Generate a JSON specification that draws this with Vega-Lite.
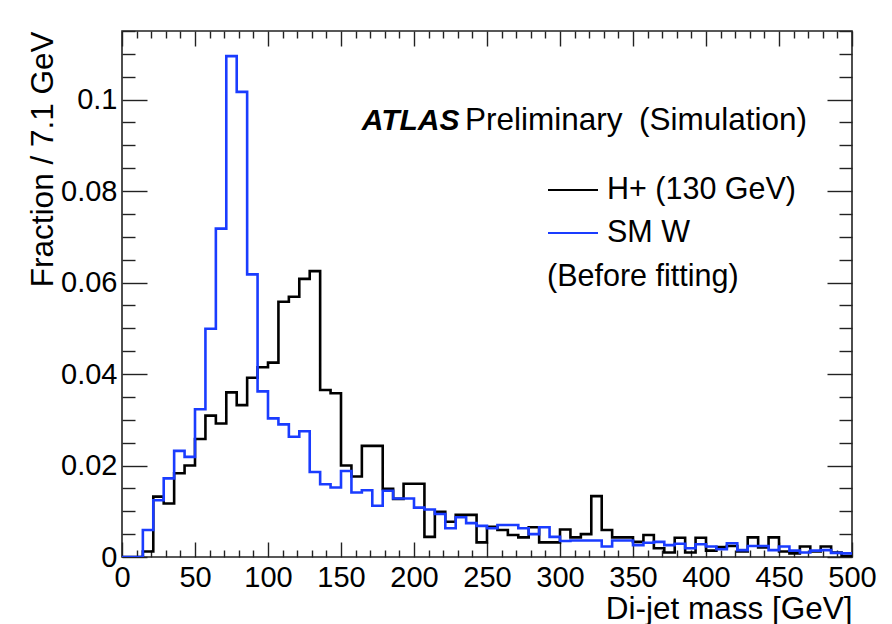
{
  "$schema": "https://vega.github.io/schema/vega-lite/v6.json",
  "width": 730,
  "height": 526,
  "autosize": {"type": "none"},
  "padding": {"left": 122, "top": 31, "right": 40, "bottom": 67},
  "background": "white",
  "config": {
    "font": "Liberation Sans",
    "view": {"stroke": "#222222", "strokeWidth": 1.6},
    "axis": {
      "domain": false,
      "grid": false,
      "tickColor": "#222222",
      "tickWidth": 1.4,
      "labelColor": "black",
      "labelFont": "Liberation Sans",
      "labelFontSize": 29,
      "titleColor": "black",
      "titleFont": "Liberation Sans",
      "titleFontSize": 31.5,
      "titleFontWeight": "normal"
    }
  },
  "datasets": {
    "dijet": [
      {"mass": 0, "hplus": 0, "smw": 0},
      {"mass": 7.1429, "hplus": 0, "smw": 0},
      {"mass": 14.2857, "hplus": 0.0012, "smw": 0.0059},
      {"mass": 21.4286, "hplus": 0.0132, "smw": 0.0124},
      {"mass": 28.5714, "hplus": 0.0117, "smw": 0.0172},
      {"mass": 35.7143, "hplus": 0.0183, "smw": 0.0232},
      {"mass": 42.8571, "hplus": 0.0200, "smw": 0.0219},
      {"mass": 50, "hplus": 0.0258, "smw": 0.0323},
      {"mass": 57.1429, "hplus": 0.0309, "smw": 0.0499},
      {"mass": 64.2857, "hplus": 0.0292, "smw": 0.0718},
      {"mass": 71.4286, "hplus": 0.0360, "smw": 0.1095},
      {"mass": 78.5714, "hplus": 0.0332, "smw": 0.1017},
      {"mass": 85.7143, "hplus": 0.0392, "smw": 0.0618},
      {"mass": 92.8571, "hplus": 0.0415, "smw": 0.0362},
      {"mass": 100, "hplus": 0.0425, "smw": 0.0303},
      {"mass": 107.1429, "hplus": 0.0558, "smw": 0.0290},
      {"mass": 114.2857, "hplus": 0.0569, "smw": 0.0263},
      {"mass": 121.4286, "hplus": 0.0608, "smw": 0.0275},
      {"mass": 128.5714, "hplus": 0.0625, "smw": 0.0186},
      {"mass": 135.7143, "hplus": 0.0365, "smw": 0.0159},
      {"mass": 142.8571, "hplus": 0.0358, "smw": 0.0152},
      {"mass": 150, "hplus": 0.0200, "smw": 0.0188},
      {"mass": 157.1429, "hplus": 0.0176, "smw": 0.0141},
      {"mass": 164.2857, "hplus": 0.0243, "smw": 0.0146},
      {"mass": 171.4286, "hplus": 0.0243, "smw": 0.0112},
      {"mass": 178.5714, "hplus": 0.0149, "smw": 0.0145},
      {"mass": 185.7143, "hplus": 0.0127, "smw": 0.0128},
      {"mass": 192.8571, "hplus": 0.0160, "smw": 0.0128},
      {"mass": 200, "hplus": 0.0160, "smw": 0.0108},
      {"mass": 207.1429, "hplus": 0.0044, "smw": 0.0104},
      {"mass": 214.2857, "hplus": 0.0099, "smw": 0.0094},
      {"mass": 221.4286, "hplus": 0.0077, "smw": 0.0063},
      {"mass": 228.5714, "hplus": 0.0092, "smw": 0.0087},
      {"mass": 235.7143, "hplus": 0.0092, "smw": 0.0074},
      {"mass": 242.8571, "hplus": 0.0032, "smw": 0.0068},
      {"mass": 250, "hplus": 0.0066, "smw": 0.0063},
      {"mass": 257.1429, "hplus": 0.0059, "smw": 0.0070},
      {"mass": 264.2857, "hplus": 0.0048, "smw": 0.0070},
      {"mass": 271.4286, "hplus": 0.0043, "smw": 0.0063},
      {"mass": 278.5714, "hplus": 0.0065, "smw": 0.0050},
      {"mass": 285.7143, "hplus": 0.0032, "smw": 0.0065},
      {"mass": 292.8571, "hplus": 0.0032, "smw": 0.0044},
      {"mass": 300, "hplus": 0.0060, "smw": 0.0035},
      {"mass": 307.1429, "hplus": 0.0043, "smw": 0.0036},
      {"mass": 314.2857, "hplus": 0.0050, "smw": 0.0036},
      {"mass": 321.4286, "hplus": 0.0133, "smw": 0.0036},
      {"mass": 328.5714, "hplus": 0.0059, "smw": 0.0023},
      {"mass": 335.7143, "hplus": 0.0043, "smw": 0.0036},
      {"mass": 342.8571, "hplus": 0.0043, "smw": 0.0036},
      {"mass": 350, "hplus": 0.0033, "smw": 0.0026},
      {"mass": 357.1429, "hplus": 0.0048, "smw": 0.0031},
      {"mass": 364.2857, "hplus": 0.0019, "smw": 0.0033},
      {"mass": 371.4286, "hplus": 0.0010, "smw": 0.0026},
      {"mass": 378.5714, "hplus": 0.0042, "smw": 0.0029},
      {"mass": 385.7143, "hplus": 0.0010, "smw": 0.0019},
      {"mass": 392.8571, "hplus": 0.0042, "smw": 0.0028},
      {"mass": 400, "hplus": 0.0014, "smw": 0.0023},
      {"mass": 407.1429, "hplus": 0.0022, "smw": 0.0017},
      {"mass": 414.2857, "hplus": 0.0024, "smw": 0.0030},
      {"mass": 421.4286, "hplus": 0.0012, "smw": 0.0015},
      {"mass": 428.5714, "hplus": 0.0043, "smw": 0.0024},
      {"mass": 435.7143, "hplus": 0.0021, "smw": 0.0024},
      {"mass": 442.8571, "hplus": 0.0043, "smw": 0.0015},
      {"mass": 450, "hplus": 0.0012, "smw": 0.0023},
      {"mass": 457.1429, "hplus": 0.0008, "smw": 0.0014},
      {"mass": 464.2857, "hplus": 0.0023, "smw": 0.0010},
      {"mass": 471.4286, "hplus": 0.0012, "smw": 0.0014},
      {"mass": 478.5714, "hplus": 0.0023, "smw": 0.0015},
      {"mass": 485.7143, "hplus": 0.0010, "smw": 0.0009},
      {"mass": 492.8571, "hplus": 0.0002, "smw": 0.0008},
      {"mass": 500, "hplus": 0.0002, "smw": 0.0008}
    ]
  },
  "layer": [
    {
      "data": {"name": "dijet"},
      "transform": [{"fold": ["hplus", "smw"], "as": ["sample", "fraction"]}],
      "mark": {"type": "line", "interpolate": "step-after", "strokeWidth": 2.6, "clip": true},
      "encoding": {
        "x": {
          "field": "mass",
          "type": "quantitative",
          "scale": {"domain": [0, 500], "nice": false, "zero": false},
          "axis": {
            "orient": "bottom",
            "values": [0, 10, 20, 30, 40, 50, 60, 70, 80, 90, 100, 110, 120, 130, 140, 150, 160, 170, 180, 190, 200, 210, 220, 230, 240, 250, 260, 270, 280, 290, 300, 310, 320, 330, 340, 350, 360, 370, 380, 390, 400, 410, 420, 430, 440, 450, 460, 470, 480, 490, 500],
            "format": "d",
            "labelExpr": "datum.value % 50 === 0 ? datum.label : ''",
            "labelFlush": false,
            "labelOverlap": false,
            "tickSize": {"condition": {"test": "datum.value % 50 === 0", "value": -15}, "value": -7},
            "labelPadding": 21,
            "title": "Di-jet mass [GeV]",
            "titleAnchor": "end",
            "titlePadding": -7
          }
        },
        "y": {
          "field": "fraction",
          "type": "quantitative",
          "scale": {"domain": [0, 0.115], "nice": false},
          "axis": {
            "orient": "left",
            "values": [0, 0.005, 0.01, 0.015, 0.02, 0.025, 0.03, 0.035, 0.04, 0.045, 0.05, 0.055, 0.06, 0.065, 0.07, 0.075, 0.08, 0.085, 0.09, 0.095, 0.1, 0.105, 0.11, 0.115],
            "format": "~g",
            "labelExpr": "round(datum.value * 1000) % 20 === 0 ? datum.label : ''",
            "labelFlush": false,
            "labelOverlap": false,
            "tickSize": {"condition": {"test": "round(datum.value * 1000) % 20 === 0", "value": -25}, "value": -13},
            "labelPadding": 30,
            "title": "Fraction / 7.1 GeV",
            "titleAnchor": "end",
            "titlePadding": 1
          }
        },
        "color": {
          "field": "sample",
          "type": "nominal",
          "scale": {"domain": ["hplus", "smw"], "range": ["#000000", "#1a3cff"]},
          "legend": {
            "orient": "none",
            "legendX": 425,
            "legendY": 133,
            "padding": 0,
            "title": "(Before fitting)",
            "titleOrient": "bottom",
            "titleAnchor": "start",
            "titleFont": "Liberation Sans",
            "titleFontSize": 30.5,
            "titleFontWeight": "normal",
            "titleColor": "black",
            "titlePadding": 13,
            "titleLimit": 0,
            "labelExpr": "datum.label == 'hplus' ? 'H+ (130 GeV)' : 'SM W'",
            "labelFont": "Liberation Sans",
            "labelFontSize": 30.5,
            "labelColor": "black",
            "labelLimit": 0,
            "labelOffset": 8,
            "symbolType": "stroke",
            "symbolSize": 2500,
            "symbolStrokeWidth": 2,
            "rowPadding": 1
          }
        }
      }
    },
    {
      "data": {"name": "dijet"},
      "mark": {"type": "point", "opacity": 0},
      "encoding": {
        "x": {
          "field": "mass",
          "type": "quantitative",
          "axis": {
            "orient": "top",
            "values": [0, 10, 20, 30, 40, 50, 60, 70, 80, 90, 100, 110, 120, 130, 140, 150, 160, 170, 180, 190, 200, 210, 220, 230, 240, 250, 260, 270, 280, 290, 300, 310, 320, 330, 340, 350, 360, 370, 380, 390, 400, 410, 420, 430, 440, 450, 460, 470, 480, 490, 500],
            "labels": false,
            "tickSize": {"condition": {"test": "datum.value % 50 === 0", "value": -15}, "value": -7},
            "title": null
          }
        },
        "y": {
          "field": "hplus",
          "type": "quantitative",
          "axis": {
            "orient": "right",
            "values": [0, 0.005, 0.01, 0.015, 0.02, 0.025, 0.03, 0.035, 0.04, 0.045, 0.05, 0.055, 0.06, 0.065, 0.07, 0.075, 0.08, 0.085, 0.09, 0.095, 0.1, 0.105, 0.11, 0.115],
            "labels": false,
            "tickSize": {"condition": {"test": "round(datum.value * 1000) % 20 === 0", "value": -25}, "value": -13},
            "title": null
          }
        }
      }
    },
    {
      "data": {"values": [{"mass": 164.2, "fraction": 0.09336, "note": "ATLAS"}]},
      "mark": {"type": "text", "align": "left", "baseline": "alphabetic", "fontSize": 30, "fontWeight": "bold", "fontStyle": "italic", "color": "black"},
      "encoding": {
        "x": {"field": "mass", "type": "quantitative", "axis": null},
        "y": {"field": "fraction", "type": "quantitative", "axis": null},
        "text": {"field": "note"}
      }
    },
    {
      "data": {"values": [
        {"mass": 234.9, "fraction": 0.09336, "note": "Preliminary"},
        {"mass": 354.1, "fraction": 0.09336, "note": "(Simulation)"}
      ]},
      "mark": {"type": "text", "align": "left", "baseline": "alphabetic", "fontSize": 31.5, "color": "black"},
      "encoding": {
        "x": {"field": "mass", "type": "quantitative", "axis": null},
        "y": {"field": "fraction", "type": "quantitative", "axis": null},
        "text": {"field": "note"}
      }
    }
  ],
  "resolve": {"axis": {"x": "independent", "y": "independent"}}
}
